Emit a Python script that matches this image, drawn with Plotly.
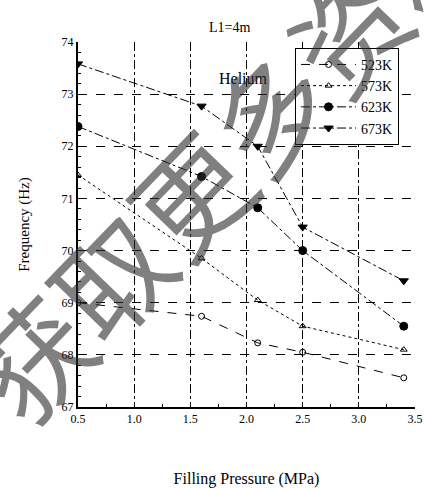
import plotly.graph_objects as go

# Filling pressure (MPa) and measured resonance frequency (Hz) for each gas temperature
pressure = [0.5, 1.6, 2.1, 2.5, 3.4]
freq_523K = [69.0, 68.74, 68.23, 68.05, 67.56]
freq_573K = [71.45, 69.85, 69.05, 68.55, 68.1]
freq_623K = [72.38, 71.42, 70.82, 70.0, 68.55]
freq_673K = [73.58, 72.77, 72.0, 70.45, 69.42]

series_names = ["523K", "573K", "623K", "673K"]
x_ticks = [0.5, 1.0, 1.5, 2.0, 2.5, 3.0, 3.5]
x_tick_text = ["0.5", "1.0", "1.5", "2.0", "2.5", "3.0", "3.5"]
y_ticks = [67, 68, 69, 70, 71, 72, 73, 74]

SERIF = "Liberation Serif, Times New Roman, serif"

styles = [
    dict(dash="dash", symbol="circle-open", size=6),
    dict(dash="dot", symbol="triangle-up-open", size=6),
    dict(dash="dashdot", symbol="circle", size=8),
    dict(dash="dashdot", symbol="triangle-down", size=8),
]

fig = go.Figure()
for name, ys, st in zip(series_names, [freq_523K, freq_573K, freq_623K, freq_673K], styles):
    fig.add_trace(go.Scatter(
        x=pressure, y=ys, name=name, mode="lines+markers",
        line=dict(color="black", width=1, dash=st["dash"]),
        marker=dict(color="black", symbol=st["symbol"], size=st["size"],
                    line=dict(color="black", width=1)),
    ))

fig.update_layout(
    width=424, height=488,
    margin=dict(l=78, r=9, t=42, b=81),
    paper_bgcolor="white", plot_bgcolor="white",
    font=dict(family=SERIF, color="black", size=12),
    legend=dict(
        x=0.644, y=0.984, xanchor="left", yanchor="top",
        bordercolor="black", borderwidth=1, bgcolor="white",
        font=dict(family=SERIF, size=14), tracegroupgap=0,
        itemwidth=55,
    ),
    xaxis=dict(
        range=[0.5, 3.5], tickvals=x_ticks, ticktext=x_tick_text,
        showline=True, linecolor="black", linewidth=2,
        ticks="inside", ticklen=5, tickcolor="black",
        minor=dict(ticks="inside", ticklen=3, dtick=0.25, tickcolor="black", showgrid=False),
        showgrid=True, gridcolor="black", gridwidth=1, griddash="dashdot",
        zeroline=False, automargin=False,
        title=dict(text="Filling Pressure (MPa)", font=dict(family=SERIF, size=16), standoff=48),
        tickfont=dict(family=SERIF, size=12),
    ),
    yaxis=dict(
        range=[67, 74], tickvals=y_ticks,
        showline=True, linecolor="black", linewidth=2,
        ticks="inside", ticklen=5, tickcolor="black",
        minor=dict(ticks="inside", ticklen=3, dtick=0.2, tickcolor="black", showgrid=False),
        showgrid=True, gridcolor="black", gridwidth=1, griddash="dash",
        zeroline=False, automargin=False,
        title=dict(text="Frequency (Hz)", font=dict(family=SERIF, size=15), standoff=28),
        tickfont=dict(family=SERIF, size=12),
    ),
    annotations=[
        dict(text="L1=4m", xref="paper", yref="paper", x=0.45, y=1.04,
             xanchor="center", yanchor="middle", showarrow=False,
             font=dict(family=SERIF, size=14)),
        dict(text="Helium", xref="x", yref="y", x=1.97, y=73.3,
             xanchor="center", yanchor="middle", showarrow=False,
             font=dict(family=SERIF, size=16)),
        dict(text="获取更多资料", xref="paper", yref="paper", x=0.445, y=0.70,
             xanchor="center", yanchor="middle", showarrow=False, textangle=-46,
             font=dict(family="Noto Sans CJK SC", size=114,
                       color="rgba(43,43,43,0.6)")),
    ],
)

fig.write_html("out.html")
